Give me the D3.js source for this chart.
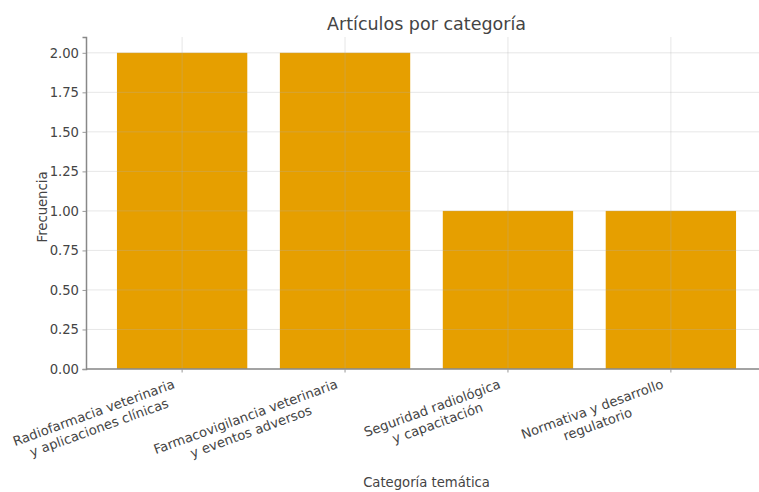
<!DOCTYPE html>
<html>
<head>
<meta charset="utf-8">
<script src="https://cdn.jsdelivr.net/npm/d3@7"></script>
<style>
  body { margin: 0; background: #ffffff; }
  text { font-family: "DejaVu Sans", sans-serif; fill: #444444; }
</style>
</head>
<body>
<div id="viz"></div>
<script>
document.addEventListener("DOMContentLoaded", () => {

  const categories = [
    "Radiofarmacia veterinaria\ny aplicaciones clínicas",
    "Farmacovigilancia veterinaria\ny eventos adversos",
    "Seguridad radiológica\ny capacitación",
    "Normativa y desarrollo\nregulatorio"
  ]
  const counts = [2, 2, 1, 1]
  const yTicks = [0, 0.25, 0.5, 0.75, 1, 1.25, 1.5, 1.75, 2]

  const width = 759
  const height = 492
  const left = 86
  const right = 767
  const top = 37
  const bottom = 369

  const svg = d3.select("#viz").append("svg")
    .attr("width", width)
    .attr("height", height)

  // bars at 0..3, width 0.8, 5% margin like matplotlib
  const x = d3.scaleLinear().domain([-0.59, 3.59]).range([left, right])
  const y = d3.scaleLinear().domain([0, 2.1]).range([bottom, top])
  const bw = x(0.8) - x(0)

  svg.selectAll("rect.bar")
    .data(counts)
    .enter()
    .append("rect")
    .attr("class", "bar")
    .attr("x", (d, i) => x(i) - bw / 2)
    .attr("y", d => y(d))
    .attr("width", bw)
    .attr("height", d => y(0) - y(d))
    .attr("fill", "#E69F00")

  // grid over the bars
  const grid = svg.append("g")
    .attr("stroke", "#b0b0b0")
    .attr("stroke-opacity", 0.3)
    .attr("stroke-width", 1)

  grid.selectAll("line.h")
    .data(yTicks)
    .enter()
    .append("line")
    .attr("x1", left).attr("x2", right)
    .attr("y1", d => y(d)).attr("y2", d => y(d))

  grid.selectAll("line.v")
    .data(counts)
    .enter()
    .append("line")
    .attr("x1", (d, i) => x(i)).attr("x2", (d, i) => x(i))
    .attr("y1", top).attr("y2", bottom)

  const fs = 13.2

  // y axis
  const yAxis = svg.append("g")
    .attr("transform", `translate(${left},0)`)
    .call(d3.axisLeft(y).tickValues(yTicks).tickFormat(d3.format(".2f")).tickSize(3.5).tickPadding(3.5))
  yAxis.select(".domain").attr("stroke", "#888888").attr("stroke-width", 1.5)
  yAxis.selectAll(".tick line").attr("stroke", "#999999")
  yAxis.selectAll(".tick text").attr("font-size", fs).attr("fill", "#444444")
    .attr("font-family", "DejaVu Sans")

  // x axis
  const xAxisG = svg.append("g")
  xAxisG.append("line")
    .attr("x1", left).attr("x2", right)
    .attr("y1", bottom).attr("y2", bottom)
    .attr("stroke", "#888888").attr("stroke-width", 1.5)

  xAxisG.selectAll("line.tick")
    .data(counts)
    .enter()
    .append("line")
    .attr("x1", (d, i) => x(i)).attr("x2", (d, i) => x(i))
    .attr("y1", bottom).attr("y2", bottom + 3.5)
    .attr("stroke", "#999999")

  // rotated two-line labels (rotation=20, ha='right')
  const lh = fs * 1.2
  const ang = 20 * Math.PI / 180

  categories.forEach((c, i) => {
    const lines = c.split("\n")
    const g = xAxisG.append("g")
    const t = g.append("text").attr("font-size", fs).attr("text-anchor", "middle")
    const spans = lines.map((s, k) => t.append("tspan").attr("x", 0).attr("y", (k + 1) * lh - fs * 0.25).text(s))
    const w = d3.max(spans, s => s.node().getComputedTextLength())
    const h = lines.length * lh
    spans.forEach(s => s.attr("x", w / 2))
    // rotated box: right = w cos + h sin, top = -w sin
    const tx = x(i) - (w * Math.cos(ang) + h * Math.sin(ang))
    const ty = bottom + 7 + w * Math.sin(ang)
    g.attr("transform", `translate(${tx},${ty}) rotate(-20)`)
  })

  svg.append("text")
    .attr("x", (left + right) / 2)
    .attr("y", 30)
    .attr("text-anchor", "middle")
    .attr("font-size", 17.5)
    .text("Artículos por categoría")

  svg.append("text")
    .attr("transform", `translate(47,${(top + bottom) / 2 + 4}) rotate(-90)`)
    .attr("text-anchor", "middle")
    .attr("font-size", fs)
    .text("Frecuencia")

  svg.append("text")
    .attr("x", (left + right) / 2)
    .attr("y", 487)
    .attr("text-anchor", "middle")
    .attr("font-size", fs)
    .text("Categoría temática")
})
</script>
</body>
</html>
